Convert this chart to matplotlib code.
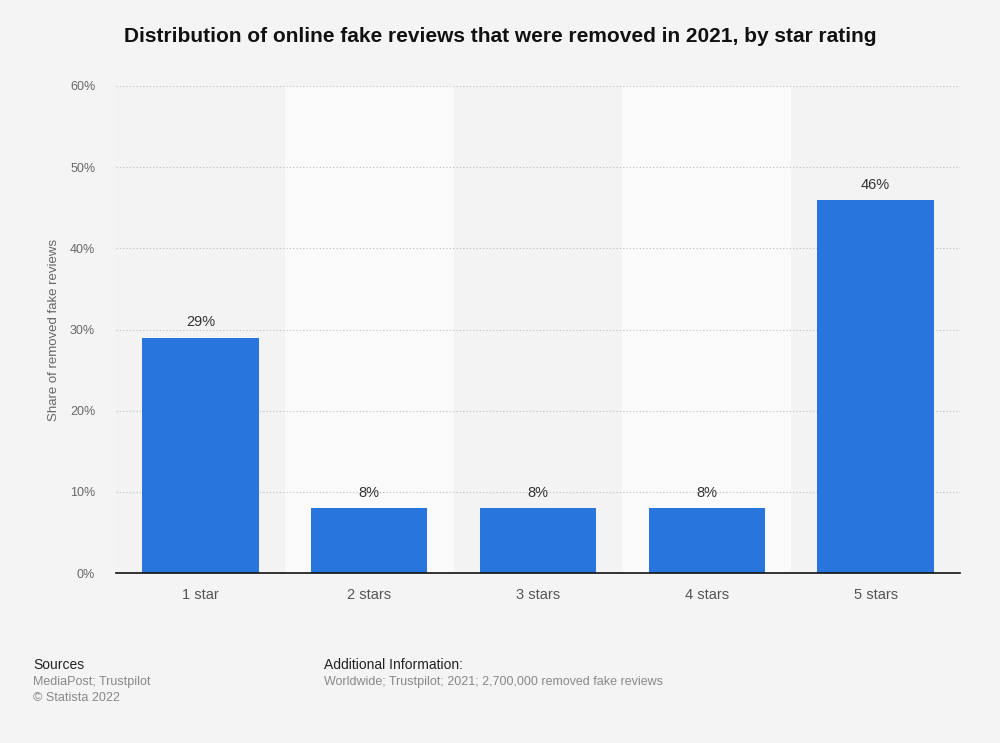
import matplotlib
matplotlib.use("Agg")
import matplotlib.pyplot as plt

categories = ["1 star", "2 stars", "3 stars", "4 stars", "5 stars"]
values = [29, 8, 8, 8, 46]
yticks = [0, 10, 20, 30, 40, 50, 60]

plt.rcParams['font.family'] = ['Liberation Sans', 'DejaVu Sans']

fig = plt.figure(figsize=(10, 7.43), dpi=100, facecolor='#f4f4f4')
ax = fig.add_axes([0.116, 1 - 573/743, 0.844, (573 - 86)/743])
ax.set_facecolor('#f4f4f4')

n = len(categories)
for i in range(n):
    ax.axvspan(i - 0.5, i + 0.5, color='#fafafa' if i % 2 == 1 else '#f3f3f3', zorder=0, lw=0)

for y in yticks[1:]:
    ax.axhline(y, color='#bbbbbb', lw=0.8, ls=(0, (1, 2)), zorder=1)

x = list(range(n))
bars = ax.bar(x, values, width=0.69, color='#2876dd', zorder=2)
for xi, v in zip(x, values):
    ax.text(xi, v + 1.0, f"{v}%", ha='center', va='bottom', fontsize=10.5, color='#333333')

ax.set_xlim(-0.5, n - 0.5)
ax.set_ylim(0, 60)
ax.set_yticks(yticks)
ax.set_yticklabels([f"{t}%" for t in yticks], fontsize=9, color='#666666')
ax.set_xticks(x)
ax.set_xticklabels(categories, fontsize=10.5, color='#555555')
ax.tick_params(axis='both', length=0)
ax.tick_params(axis='x', pad=11)
ax.tick_params(axis='y', pad=15)
for s in ['top', 'right', 'left']:
    ax.spines[s].set_visible(False)
ax.spines['bottom'].set_color('#111111')
ax.spines['bottom'].set_linewidth(1.2)
ax.spines['bottom'].set_zorder(3)

ax.set_ylabel("Share of removed fake reviews", fontsize=9.5, color='#666666')
ax.yaxis.set_label_coords(-0.066, 0.5)

fig.text(0.5, 1 - 36/743, "Distribution of online fake reviews that were removed in 2021, by star rating",
         ha='center', va='center', fontsize=15, fontweight='bold', color='#111111')

fig.text(0.033, 1 - 665/743, "Sources", fontsize=10, color='#222222', va='center')
fig.text(0.033, 1 - 682/743, "MediaPost; Trustpilot", fontsize=9, color='#888888', va='center')
fig.text(0.033, 1 - 698/743, "\u00a9 Statista 2022", fontsize=9, color='#888888', va='center')
fig.text(0.324, 1 - 665/743, "Additional Information:", fontsize=10, color='#222222', va='center')
fig.text(0.324, 1 - 682/743, "Worldwide; Trustpilot; 2021; 2,700,000 removed fake reviews", fontsize=9, color='#888888', va='center')

fig.savefig("out.png", dpi=100, facecolor=fig.get_facecolor())
